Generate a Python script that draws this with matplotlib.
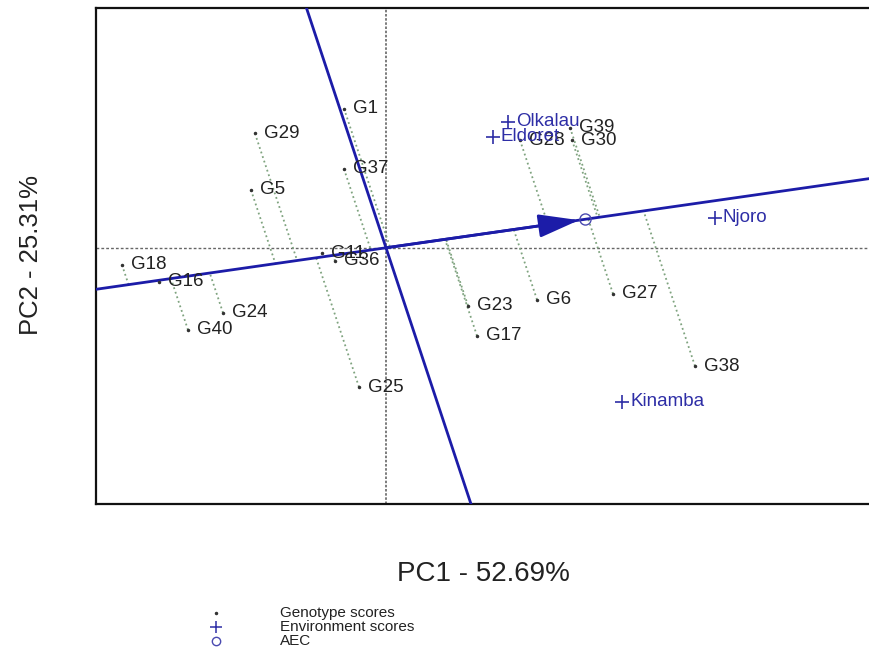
import matplotlib
matplotlib.use('Agg')
import matplotlib.pyplot as plt
from matplotlib.lines import Line2D
import numpy as np

plt.rcParams['font.family'] = ['Liberation Sans', 'DejaVu Sans']

############################# data ##################################

gen_names = ['G1', 'G29', 'G37', 'G5', 'G11', 'G36', 'G18', 'G16', 'G24', 'G40', 'G25',
             'G23', 'G6', 'G27', 'G17', 'G38', 'G39', 'G28', 'G30']
gen_pc1 = [-0.42, -1.31, -0.42, -1.35, -0.64, -0.51, -2.64, -2.27, -1.63, -1.98, -0.27,
           0.82, 1.51, 2.27, 0.91, 3.09, 1.84, 1.34, 1.86]
gen_pc2 = [2.12, 1.74, 1.20, 0.88, -0.08, -0.20, -0.26, -0.52, -0.99, -1.25, -2.12,
           -0.88, -0.79, -0.70, -1.34, -1.80, 1.83, 1.64, 1.64]

env_names = ['Olkalau', 'Eldoret', 'Njoro', 'Kinamba']
env_pc1 = [1.22, 1.07, 3.29, 2.36]
env_pc2 = [1.92, 1.69, 0.46, -2.34]

xlab = 'PC1 - 52.69%'
ylab = 'PC2 - 25.31%'
legend_labels = ['Genotype scores', 'Environment scores', 'AEC']

############################# style ##################################

blue = '#1c1ca8'
envcol = '#2e2ea6'
projcol = '#7fa37f'
W, H = 869, 656

fig = plt.figure(figsize=(W / 100, H / 100), dpi=100)
# frame runs off the right edge like the original
ax = fig.add_axes([96 / W, (H - 504) / H, (878 - 96) / W, (504 - 8) / H])
ax.set_xlim(-2.90, 4.92)
ax.set_ylim(-3.90, 3.65)
ax.set_xticks([])
ax.set_yticks([])
for s in ax.spines.values():
    s.set_linewidth(1.6)
    s.set_color('#111111')

ax.axhline(0, color='#666666', lw=1.0, ls=(0, (2, 1.5)), zorder=1)
ax.axvline(0, color='#666666', lw=1.2, ls=(0, (1.5, 1)), zorder=1)

gx = np.array(gen_pc1)
gy = np.array(gen_pc2)
ex = np.array(env_pc1)
ey = np.array(env_pc2)

# average environment coordinate
aec = np.array([ex.mean(), ey.mean()])
u = aec / np.linalg.norm(aec)

# ATC abscissa and ordinate
ax.axline((0, 0), (aec[0], aec[1]), color=blue, lw=2.0, zorder=3)
ax.axline((0, 0), slope=-aec[0] / aec[1], color=blue, lw=2.0, zorder=3)
ax.annotate('', xy=(aec[0], aec[1]), xytext=(0, 0),
            arrowprops=dict(arrowstyle='-|>,head_length=1.25,head_width=0.36',
                            color=blue, lw=2.0, mutation_scale=20,
                            shrinkA=0, shrinkB=4), zorder=4)
ax.plot([aec[0]], [aec[1]], 'o', ms=8, mfc='none', mec='#4a4ab0', mew=1.0, zorder=5)

# projections of genotypes onto the abscissa
for x, y in zip(gx, gy):
    d = x * u[0] + y * u[1]
    ax.plot([x, d * u[0]], [y, d * u[1]], ls=':', color=projcol, lw=1.3, zorder=2)

ax.plot(gx, gy, '.', ms=3, color='#333333', zorder=5)
for name, x, y in zip(gen_names, gx, gy):
    ax.annotate(name, (x, y), xytext=(9, 0), textcoords='offset pixels',
                va='center', ha='left', fontsize=13.5, color='#222222', zorder=6)

ax.plot(ex, ey, '+', ms=10, mew=1.2, color=envcol, zorder=5)
for name, x, y in zip(env_names, ex, ey):
    ax.annotate(name, (x, y), xytext=(8, 0), textcoords='offset pixels',
                va='center', ha='left', fontsize=13.5, color=envcol, zorder=6)

fig.text(483 / W, 1 - 574 / H, xlab, ha='center', va='center', fontsize=20, color='#222222')
fig.text(31 / W, 1 - 255 / H, ylab, ha='center', va='center', rotation=90,
         fontsize=18.5, color='#222222')

############################# legend ##################################

rows = [613, 627, 641]
marks = [dict(marker='.', ms=3, color='#333333', mfc='#333333'),
         dict(marker='+', ms=9, mew=1.1, color=envcol),
         dict(marker='o', ms=6, mfc='none', mec='#4a4ab0', mew=1.0)]
for lab, yy, mk in zip(legend_labels, rows, marks):
    fig.add_artist(Line2D([216 / W], [1 - yy / H], transform=fig.transFigure,
                          ls='none', **mk))
    fig.text(280 / W, 1 - yy / H, lab, ha='left', va='center', fontsize=11, color='#222222')

fig.savefig('out.png', dpi=100)
